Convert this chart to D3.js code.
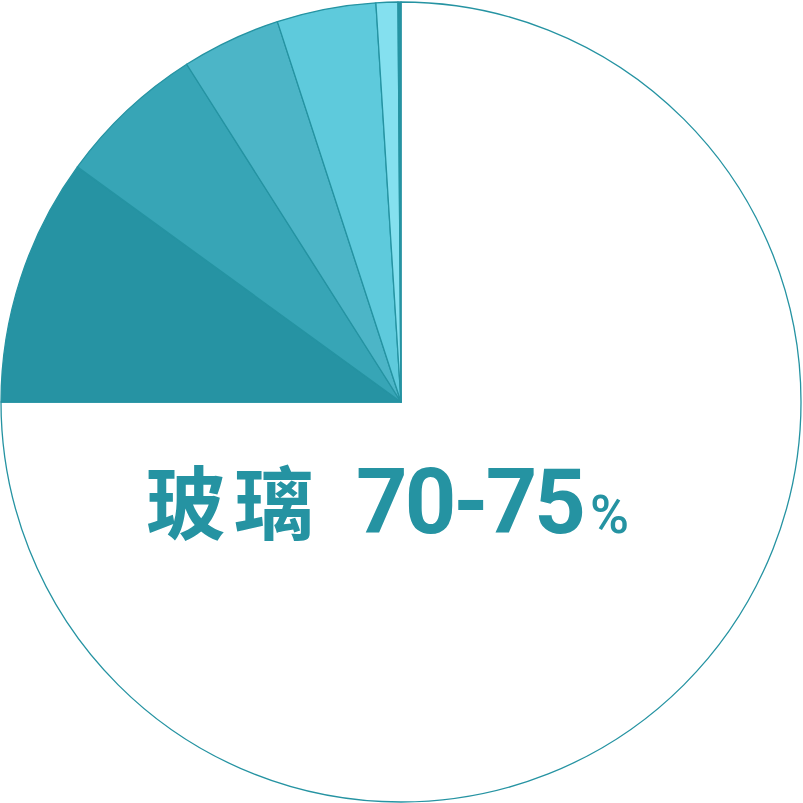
<!DOCTYPE html>
<html><head><meta charset="utf-8">
<script src="https://cdn.jsdelivr.net/npm/d3@7"></script>
<style>html,body{margin:0;padding:0;background:#fff;}</style>
</head><body>
<svg id="c" width="803" height="803"></svg>
<script>
const categories = ["玻璃", "B", "C", "D", "E", "F", "G"];
const values = [75, 10, 6, 4, 4, 0.88, 0.12];
const colors = ["#ffffff", "#2693a3", "#37a5b6", "#4cb5c7", "#5ecadc", "#84e0ef", "#2693a3"];
const labelMain = "玻璃";
const labelNum = "70-75";
const labelPct = "%";

const svg = d3.select("#c");
const cx = 401, cy = 402, r = 400;
const g = svg.append("g").attr("transform", `translate(${cx},${cy})`);
const pie = d3.pie().sort(null).value(d => d.v);
const arc = d3.arc().innerRadius(0).outerRadius(r);
const data = categories.map((c, i) => ({c, v: values[i], col: colors[i]}));
g.selectAll("path").data(pie(data)).join("path")
  .attr("d", arc)
  .attr("fill", d => d.data.col)
  .attr("stroke", "#2593a2")
  .attr("stroke-width", 1.3)
  .attr("stroke-linejoin", "round");

const t = svg.append("text")
  .attr("x", 146).attr("y", 533)
  .attr("fill", "#2593a2");
t.append("tspan").text(labelMain)
  .attr("font-family", "'Noto Sans CJK SC'")
  .attr("font-weight", 700).attr("font-size", 80).attr("letter-spacing", 8);
t.append("tspan").text(labelNum)
  .attr("x", 356)
  .attr("font-family", "Roboto").attr("font-weight", 700).attr("font-size", 90)
  .attr("letter-spacing", -3);
t.append("tspan").text(labelPct)
  .attr("dx", 7)
  .attr("font-family", "Roboto").attr("font-weight", 500).attr("font-size", 53);
</script>
</body></html>
